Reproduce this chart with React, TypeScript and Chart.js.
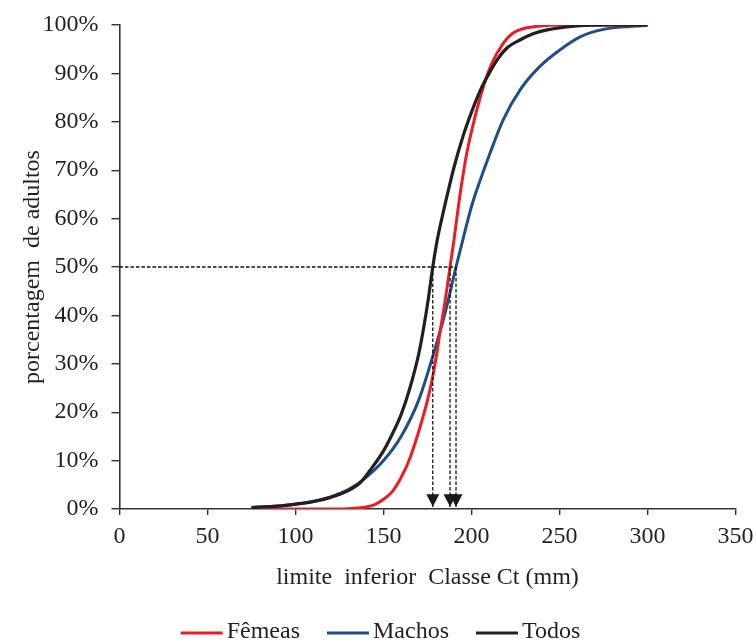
import { useEffect, useRef } from "react";
import { Chart, registerables } from "chart.js";

Chart.register(...registerables);

// ---- Data ----
const FEMEAS_X = [75, 100, 125, 135, 140, 145, 150, 155, 160, 165, 170, 175, 177.5, 180, 182, 185, 187.8, 190, 193.5, 197.3, 202, 206.7, 211.5, 218, 223, 228, 239, 250, 275, 300];
const FEMEAS_Y = [0, 0, 0, 0.2, 0.4, 0.9, 2, 3.6, 6.5, 10.5, 16, 22.5, 26.5, 31.5, 36.3, 43, 50, 55.5, 65, 73.5, 81, 87.2, 92, 96.2, 98.2, 99.1, 99.8, 100, 100, 100];

const MACHOS_X = [75, 90, 100, 110, 120, 130, 140, 150, 160, 170, 180, 185, 191.2, 195, 200, 205, 210, 218, 228, 239, 250, 262, 275, 290, 300];
const MACHOS_Y = [0.3, 0.6, 1.0, 1.6, 2.5, 4, 6.5, 10, 15, 22.5, 34, 40.5, 50, 55.5, 62.5, 68, 73, 80.4, 86.8, 91.5, 94.8, 97.6, 99.1, 99.7, 99.9];

const TODOS_X = [75, 90, 100, 110, 120, 130, 137, 142, 150, 155, 160, 165, 170, 173, 175.5, 178, 180.5, 183, 185, 190, 195, 200, 205, 210, 215, 220, 228, 235, 243, 260, 280, 300];
const TODOS_Y = [0.3, 0.6, 1.0, 1.5, 2.4, 3.8, 5.5, 7.8, 12, 15.5, 19.5, 25, 32, 37.8, 43.5, 50, 55.5, 59.8, 63, 70.5, 76.8, 82, 86.5, 90, 93, 95.2, 97, 98.2, 99, 99.8, 100, 100];

const SERIES_NAMES = ["Fêmeas", "Machos", "Todos"];
const REF_LEVEL = 50; // % maturity reference line
const L50_VALUES = [178, 187.8, 191.2]; // Todos, Fêmeas, Machos

const X_TITLE = "limite  inferior  Classe Ct (mm)";
const Y_TITLE = "porcentagem  de adultos";

const COLORS = ["#ED1C24", "#1F4E86", "#231F20"];
const TEXT = "#231F20";
const AXIS = "#333333";
const FONT = "'Liberation Serif', 'Times New Roman', serif";

const toPts = (xs: number[], ys: number[]) => xs.map((x, i) => ({ x, y: ys[i] }));

const arrowPlugin = {
  id: "arrowHeads",
  afterDatasetsDraw(chart: any) {
    const { ctx, scales } = chart;
    const xs = scales.x;
    const ys = scales.y;
    ctx.save();
    ctx.fillStyle = "#1A1A1A";
    L50_VALUES.forEach((v) => {
      const px = xs.getPixelForValue(v);
      const tip = ys.getPixelForValue(0) - 2.3;
      ctx.beginPath();
      ctx.moveTo(px - 6.5, tip - 12.5);
      ctx.lineTo(px + 6.5, tip - 12.5);
      ctx.lineTo(px, tip);
      ctx.closePath();
      ctx.fill();
    });
    ctx.restore();
  },
};

const legendPlugin = {
  id: "customLegend",
  afterDraw(chart: any) {
    const { ctx } = chart;
    ctx.save();
    ctx.font = `24px ${FONT}`;
    const lineLen = 42;
    const gap = 4;
    const spacing = 27;
    const widths = SERIES_NAMES.map((n) => ctx.measureText(n).width);
    const total = widths.reduce((a, b) => a + b, 0) + SERIES_NAMES.length * (lineLen + gap) + spacing * (SERIES_NAMES.length - 1);
    let x = 380.5 - total / 2;
    const lineY = 633;
    const baseY = 638;
    SERIES_NAMES.forEach((n, i) => {
      ctx.strokeStyle = COLORS[i];
      ctx.lineWidth = 3;
      ctx.beginPath();
      ctx.moveTo(x, lineY);
      ctx.lineTo(x + lineLen, lineY);
      ctx.stroke();
      x += lineLen + gap;
      ctx.fillStyle = TEXT;
      ctx.textBaseline = "alphabetic";
      ctx.textAlign = "left";
      ctx.fillText(n, x, baseY);
      x += widths[i] + spacing;
    });
    ctx.restore();
  },
};

export default function App() {
  const ref = useRef<HTMLCanvasElement | null>(null);

  useEffect(() => {
    document.body.style.margin = "0";
    const canvas = ref.current;
    if (!canvas) return;

    const guideDash = {
      borderColor: "#111111",
      borderWidth: 1.3,
      borderDash: [3.5, 2],
      pointRadius: 0,
      fill: false,
      tension: 0,
    };

    const datasets: any[] = [
      {
        label: SERIES_NAMES[2],
        data: toPts(TODOS_X, TODOS_Y),
        borderColor: COLORS[2],
        borderWidth: 3.2,
        order: 1,
      },
      {
        label: SERIES_NAMES[1],
        data: toPts(MACHOS_X, MACHOS_Y),
        borderColor: COLORS[1],
        borderWidth: 3,
        order: 3,
      },
      {
        label: SERIES_NAMES[0],
        data: toPts(FEMEAS_X, FEMEAS_Y),
        borderColor: COLORS[0],
        borderWidth: 3,
        order: 2,
      },
      {
        label: "ref",
        data: [
          { x: 0, y: REF_LEVEL },
          { x: Math.max(...L50_VALUES), y: REF_LEVEL },
        ],
        ...guideDash,
        order: 0,
      },
      ...L50_VALUES.map((v) => ({
        label: "l50",
        data: [
          { x: v, y: REF_LEVEL },
          { x: v, y: 0 },
        ],
        ...guideDash,
        order: 0,
      })),
    ];
    datasets.slice(0, 3).forEach((d) => {
      d.pointRadius = 0;
      d.fill = false;
      d.cubicInterpolationMode = "monotone";
      d.tension = 0.4;
      d.backgroundColor = d.borderColor;
    });

    const chart = new Chart(canvas, {
      type: "line",
      data: { datasets },
      options: {
        animation: false,
        responsive: false,
        maintainAspectRatio: false,
        layout: { padding: { left: 0, right: 20.5, top: 25, bottom: 20 } },
        plugins: {
          legend: { display: false },
          tooltip: { enabled: false },
        },
        scales: {
          x: {
            type: "linear",
            min: 0,
            max: 350,
            ticks: {
              stepSize: 50,
              color: TEXT,
              font: { family: FONT, size: 24 },
              padding: 7,
              maxRotation: 0,
            },
            grid: {
              display: true,
              drawOnChartArea: false,
              drawTicks: true,
              tickLength: 6,
              color: AXIS,
              lineWidth: 1.4,
            },
            border: { display: true, color: AXIS, width: 1.6 },
            title: {
              display: true,
              text: X_TITLE,
              color: TEXT,
              font: { family: FONT, size: 24 },
              padding: { top: 0, bottom: 29.6 },
            },
            afterFit: (scale: any) => {
              scale.height = 113;
              scale.paddingLeft = 0;
              scale.paddingRight = 0;
            },
          },
          y: {
            type: "linear",
            min: 0,
            max: 100,
            ticks: {
              stepSize: 10,
              color: TEXT,
              font: { family: FONT, size: 24 },
              padding: 13,
              callback: (v: any) => `${v}%`,
            },
            grid: {
              display: true,
              drawOnChartArea: false,
              drawTicks: true,
              tickLength: 8,
              color: AXIS,
              lineWidth: 1.4,
            },
            border: { display: true, color: AXIS, width: 1.6 },
            title: {
              display: true,
              text: Y_TITLE,
              color: TEXT,
              font: { family: FONT, size: 24 },
              padding: { top: 18, bottom: 0 },
            },
            afterFit: (scale: any) => {
              scale.width = 119.5;
              scale.paddingTop = 0;
              scale.paddingBottom = 0;
            },
          },
        },
      },
      plugins: [arrowPlugin, legendPlugin],
    });

    return () => chart.destroy();
  }, []);

  return (
    <div style={{ width: 756, height: 642 }}>
      <canvas ref={ref} width={756} height={642} style={{ display: "block" }} />
    </div>
  );
}
